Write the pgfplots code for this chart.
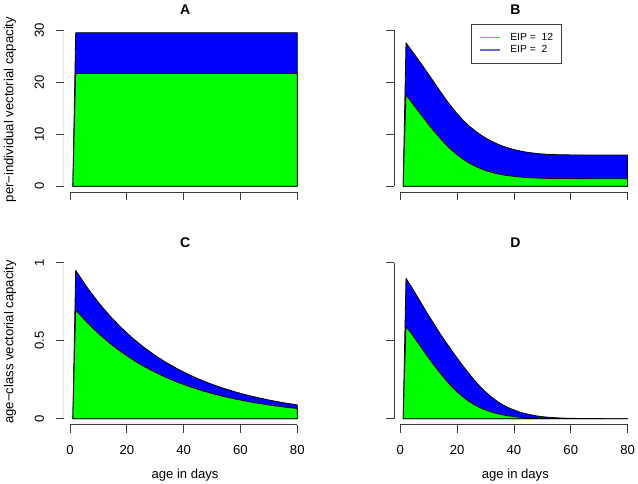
\documentclass[border=0pt]{standalone}
\usepackage{fontspec}
\setmainfont{Liberation Sans}
\usepackage{pgfplots}
\pgfplotsset{compat=1.18}
\definecolor{rgreen}{RGB}{0,255,0}
\definecolor{rblue}{RGB}{0,0,255}
\definecolor{axgray}{RGB}{60,60,60}
\definecolor{lgreen}{RGB}{40,230,40}
\definecolor{lblue}{RGB}{100,110,215}
\newcommand\lab{\fontsize{13.1bp}{15bp}\selectfont}
\newcommand\ttl{\fontsize{14bp}{16bp}\selectfont\bfseries}
\newcommand\lgd{\fontsize{10.3bp}{12bp}\selectfont}
\tikzset{axl/.style={axgray, line width=0.8bp}}
\pgfplotsset{
 panel/.style={
  scale only axis, width=242.4bp, height=165.8bp,
  xmin=-2.16, xmax=83.16,
  axis x line*=bottom, axis y line*=left,
  axis line style={draw=none},
  tick align=outside, major tick length=8bp,
  tick style={axgray, line width=0.8bp},
  xtick={0,20,40,60,80},
  xticklabel style={font=\lab, anchor=center, yshift=-17bp},
  yticklabel style={font=\lab, rotate=90, anchor=center, yshift=16.5bp},
  title style={at={(0.5,1)}, anchor=center, yshift=10.6bp, font=\ttl},
  ylabel style={at={(axis description cs:0,0.5)}, anchor=center, yshift=53.9bp, font=\lab},
  xlabel style={at={(axis description cs:0.5,0)}, anchor=center, yshift=-50bp, font=\lab},
 },
 toprow/.style={ymin=-1.18, ymax=30.72, ytick={0,10,20,30}, xticklabels={}},
 botrow/.style={ymin=-0.0394, ymax=1.0234, ytick={0,0.5,1}, xticklabels={0,20,40,60,80}, xlabel={age in days}},
 bpoly/.style={fill=rblue, draw=black, line width=0.8bp, line join=round, forget plot},
 gpoly/.style={fill=rgreen, draw=black, line width=0.8bp, line join=round, forget plot},
}
\begin{document}
\begin{tikzpicture}
\useasboundingbox (0,0) rectangle (638bp,484bp);
% ---------- A
\begin{axis}[panel, toprow, at={(63.86bp,291.6bp)}, anchor=south west,
  title={A}, ylabel={per−individual vectorial capacity}, yticklabels={0,10,20,30}]
\addplot[bpoly] coordinates {(1,0) (2,29.54) (80,29.54) (80,0) (1,0)};
\addplot[gpoly] coordinates {(1,0) (2,21.7) (80,21.7) (80,0) (1,0)};
\draw[axl] (axis cs:0,-1.18) -- (axis cs:80,-1.18);
\draw[axl] (axis cs:-2.16,0) -- (axis cs:-2.16,30);
\end{axis}
% ---------- B
\begin{axis}[panel, toprow, at={(394.16bp,291.6bp)}, anchor=south west,
  title={B}, yticklabels={},
  legend style={at={(axis description cs:0.318,1.014)}, anchor=north west,
    draw=axgray, line width=0.6bp, font=\lgd, fill=white,
    inner xsep=7.8bp, inner ysep=8.5bp, row sep=2.7bp,
    nodes={inner sep=0pt, text height=7.5bp, text depth=2bp},
    /tikz/every odd column/.append style={column sep=9.7bp}},
  legend cell align=left,
  legend image code/.code={\draw[#1] (0bp,0bp) -- (20bp,0bp);}]
\addplot[bpoly] coordinates {(1,0) (2,27.6) (4,26.1) (6,24.6) (8,23.05) (10,21.5) (12,19.9) (14,18.3) (16,16.75) (18,15.3) (20,13.95) (22,12.75) (24,11.7) (26,10.8) (28,10.0) (30,9.3) (32,8.7) (34,8.18) (36,7.74) (38,7.37) (40,7.06) (42,6.81) (44,6.6) (46,6.44) (48,6.31) (50,6.21) (52,6.14) (55,6.08) (60,6.03) (70,6.0) (80,6.0) (80,0) (1,0)};
\addplot[gpoly] coordinates {(1,0) (2,17.6) (4,16.15) (6,14.7) (8,13.3) (10,11.85) (12,10.5) (14,9.25) (16,8.05) (18,7.0) (20,6.05) (22,5.25) (24,4.55) (26,3.95) (28,3.45) (30,3.03) (32,2.7) (34,2.43) (36,2.2) (38,2.03) (40,1.9) (42,1.79) (44,1.7) (46,1.63) (48,1.58) (50,1.54) (55,1.5) (60,1.47) (70,1.46) (80,1.46) (80,0) (1,0)};
\draw[axl] (axis cs:0,-1.18) -- (axis cs:80,-1.18);
\draw[axl] (axis cs:-2.16,0) -- (axis cs:-2.16,30);
\addlegendimage{draw=lgreen, line width=1.3bp}
\addlegendentry{EIP = \ 12}
\addlegendimage{draw=lblue, line width=1.3bp}
\addlegendentry{EIP = \ 2}
\end{axis}
% ---------- C
\begin{axis}[panel, botrow, at={(63.86bp,59.15bp)}, anchor=south west,
  title={C}, ylabel={age−class vectorial capacity}, yticklabels={0,0.5,1}]
\addplot[bpoly] coordinates {(1,0) (2,0.951) (6,0.8419) (10,0.7453) (14,0.6598) (18,0.5841) (22,0.5171) (26,0.4578) (30,0.4053) (34,0.3588) (38,0.3176) (42,0.2812) (46,0.2490) (50,0.2204) (54,0.1951) (58,0.1727) (62,0.1529) (66,0.1354) (70,0.1198) (74,0.1061) (78,0.0939) (80,0.0884) (80,0) (1,0)};
\addplot[gpoly] coordinates {(1,0) (2,0.697) (6,0.6170) (10,0.5463) (14,0.4836) (18,0.4281) (22,0.3790) (26,0.3355) (30,0.2971) (34,0.2630) (38,0.2328) (42,0.2061) (46,0.1825) (50,0.1615) (54,0.1430) (58,0.1266) (62,0.1121) (66,0.0992) (70,0.0878) (74,0.0778) (78,0.0688) (80,0.0648) (80,0) (1,0)};
\draw[axl] (axis cs:0,-0.0394) -- (axis cs:80,-0.0394);
\draw[axl] (axis cs:-2.16,0) -- (axis cs:-2.16,1);
\end{axis}
% ---------- D
\begin{axis}[panel, botrow, at={(394.16bp,59.15bp)}, anchor=south west,
  title={D}, yticklabels={}]
\addplot[bpoly] coordinates {(1,0) (2,0.90) (4,0.843) (6,0.782) (8,0.721) (10,0.661) (12,0.603) (14,0.545) (16,0.492) (18,0.44) (20,0.389) (22,0.34) (24,0.293) (26,0.249) (28,0.208) (30,0.172) (32,0.141) (34,0.113) (36,0.09) (38,0.071) (40,0.056) (42,0.043) (44,0.033) (46,0.025) (48,0.018) (50,0.013) (52,0.0095) (54,0.007) (56,0.005) (58,0.0035) (60,0.0025) (64,0.0013) (68,0.0007) (72,0.0003) (76,0.0001) (80,0.0001) (80,0) (1,0)};
\addplot[gpoly] coordinates {(1,0) (2,0.59) (4,0.545) (6,0.492) (8,0.44) (10,0.389) (12,0.34) (14,0.293) (16,0.249) (18,0.208) (20,0.172) (22,0.141) (24,0.113) (26,0.09) (28,0.071) (30,0.056) (32,0.043) (34,0.033) (36,0.025) (38,0.018) (40,0.013) (42,0.0095) (44,0.007) (46,0.005) (48,0.0035) (50,0.0025) (54,0.0013) (58,0.0007) (62,0.0003) (66,0.0001) (80,0.0001) (80,0) (1,0)};
\draw[axl] (axis cs:0,-0.0394) -- (axis cs:80,-0.0394);
\draw[axl] (axis cs:-2.16,0) -- (axis cs:-2.16,1);
\end{axis}
\end{tikzpicture}
\end{document}
